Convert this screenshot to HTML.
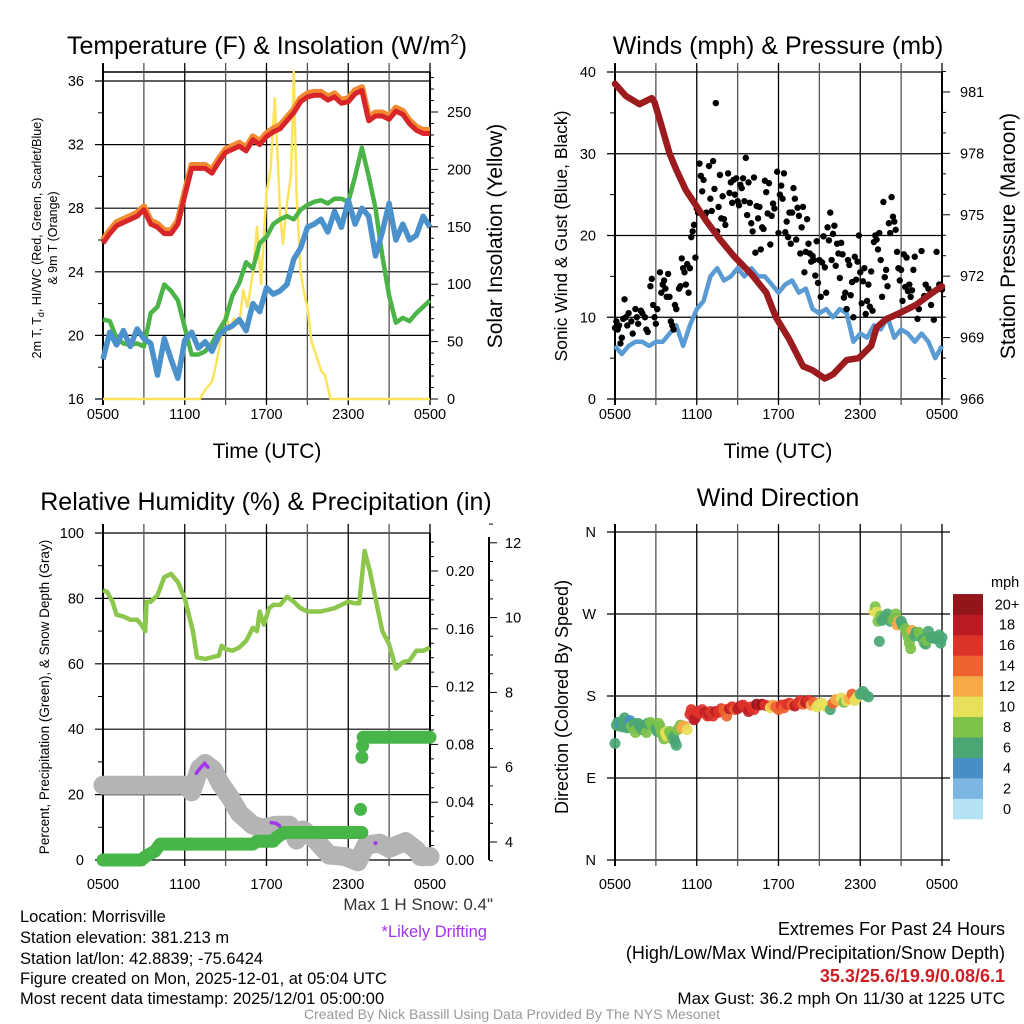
<!DOCTYPE html>
<html><head><meta charset="utf-8"><title>Morrisville Meteogram</title>
<style>
html,body{margin:0;padding:0;background:#fff;}
svg{display:block;font-family:"Liberation Sans",Arial,sans-serif;}
</style></head>
<body>
<svg id="fig" width="1024" height="1024" viewBox="0 0 1024 1024" xmlns="http://www.w3.org/2000/svg">
<rect x="0" y="0" width="1024" height="1024" fill="#fff"/>
<g id="p1"></g>
<g id="p2"></g>
<g id="p3"></g>
<g id="p4"></g>

<text x="267" y="54" font-size="25" text-anchor="middle">Temperature (F) &amp; Insolation (W/m<tspan font-size="15" dy="-10">2</tspan><tspan dy="10">)</tspan></text>
<text x="778" y="54" font-size="25" text-anchor="middle">Winds (mph) &amp; Pressure (mb)</text>
<text x="266" y="510" font-size="25" text-anchor="middle">Relative Humidity (%) &amp; Precipitation (in)</text>
<text x="778" y="506" font-size="25" text-anchor="middle">Wind Direction</text>

<text x="267" y="458" font-size="21" text-anchor="middle">Time (UTC)</text>
<text x="778" y="458" font-size="21" text-anchor="middle">Time (UTC)</text>

<text transform="translate(41,238) rotate(-90)" font-size="12.5" text-anchor="middle">2m T, T<tspan font-size="9" dy="3">d</tspan><tspan dy="-3">, HI/WC (Red, Green, Scarlet/Blue)</tspan></text>
<text transform="translate(57,238) rotate(-90)" font-size="12.5" text-anchor="middle">&amp; 9m T (Orange)</text>
<text transform="translate(502,236) rotate(-90)" font-size="21" text-anchor="middle">Solar Insolation (Yellow)</text>
<text transform="translate(567,236) rotate(-90)" font-size="17.5" text-anchor="middle">Sonic Wind &amp; Gust (Blue, Black)</text>
<text transform="translate(1015,236) rotate(-90)" font-size="21" text-anchor="middle">Station Pressure (Maroon)</text>
<text transform="translate(49,697) rotate(-90)" font-size="13.5" text-anchor="middle">Percent, Precipitation (Green), &amp; Snow Depth (Gray)</text>
<text transform="translate(568,697) rotate(-90)" font-size="18" text-anchor="middle">Direction (Colored By Speed)</text>

<text x="493" y="910" font-size="17" text-anchor="end" fill="#333">Max 1 H Snow: 0.4"</text>
<text x="487" y="937" font-size="16.5" text-anchor="end" fill="#a434ee">*Likely Drifting</text>

<g font-size="16.5">
<text x="20" y="922">Location: Morrisville</text>
<text x="20" y="943">Station elevation: 381.213 m</text>
<text x="20" y="964">Station lat/lon: 42.8839; -75.6424</text>
<text x="20" y="984">Figure created on Mon, 2025-12-01, at 05:04 UTC</text>
<text x="20" y="1004">Most recent data timestamp: 2025/12/01 05:00:00</text>
</g>
<g font-size="18" text-anchor="end">
<text x="1005" y="935">Extremes For Past 24 Hours</text>
<text x="1005" y="959">(High/Low/Max Wind/Precipitation/Snow Depth)</text>
<text x="1005" y="982" fill="#cc2027" font-weight="bold">35.3/25.6/19.9/0.08/6.1</text>
<text x="1005" y="1004" font-size="17">Max Gust: 36.2 mph On 11/30 at 1225 UTC</text>
</g>
<text x="512" y="1019" font-size="14" text-anchor="middle" fill="#999">Created By Nick Bassill Using Data Provided By The NYS Mesonet</text>
</svg>

<script>
// ---------- DATA ----------
const xTickLabels = ["0500","1100","1700","2300","0500"];
const tempTicks = [16,20,24,28,32,36];
const insolTicks = [0,50,100,150,200,250];
const windTicks = [0,10,20,30,40];
const presTicks = [966,969,972,975,978,981];
const rhTicks = [0,20,40,60,80,100];
const precipTicks = ["0.00","0.04","0.08","0.12","0.16","0.20"];
const snowTicks = [4,6,8,10,12];
const dirLabels = ["N","E","S","W","N"];
const cbarLabels = ["0","2","4","6","8","10","12","14","16","18","20+"];
const cbarColors = ["#b4e1f5","#7db7e1","#478dc6","#4aa774","#7cc24a","#e7e05b","#f5a947","#ee6230","#dd3229","#bb1c24","#921519"];

const tHalf = [0,0.5,1,1.5,2,2.5,3,3.5,4,4.5,5,5.5,6,6.5,7,7.5,8,8.5,9,9.5,10,10.5,11,11.5,12,12.5,13,13.5,14,14.5,15,15.5,16,16.5,17,17.5,18,18.5,19,19.5,20,20.5,21,21.5,22,22.5,23,23.5,24];
const tempRed = [25.8,26.4,26.9,27.1,27.3,27.5,27.9,27.0,26.8,26.4,26.4,27.0,28.8,30.5,30.5,30.5,30.2,30.9,31.5,31.7,31.9,31.6,32.3,32.0,32.5,32.8,33.0,33.5,34.0,34.7,35.0,35.1,35.1,34.8,35.0,34.6,34.7,35.2,35.4,33.5,33.8,33.8,33.6,34.1,33.9,33.3,32.9,32.7,32.7];
const tempOrange = [26.0,26.6,27.1,27.3,27.5,27.7,28.1,27.2,27.0,26.6,26.6,27.2,29.0,30.7,30.7,30.7,30.4,31.1,31.7,31.9,32.1,31.8,32.5,32.2,32.7,33.0,33.2,33.7,34.2,34.9,35.2,35.3,35.3,35.0,35.2,34.8,34.9,35.4,35.6,33.7,34.0,34.0,33.8,34.3,34.1,33.5,33.1,32.9,32.9];
const dewGreen = [21.0,20.9,19.8,19.5,19.4,19.5,19.3,21.4,21.8,23.2,22.8,22.2,20.5,18.8,18.8,19.0,19.5,20.3,21.0,22.5,23.3,24.6,24.2,25.8,26.2,27.0,27.3,27.5,27.3,27.9,28.2,28.4,28.5,28.3,28.6,28.6,28.4,30.0,31.8,30.0,28.0,25.0,22.5,20.8,21.1,20.9,21.4,21.8,22.2];
const chillBlue = [18.5,20.2,19.4,20.3,19.3,20.4,19.8,19.5,17.5,19.8,18.5,17.3,19.7,20.2,19.2,19.6,19.0,20.0,20.4,20.6,21.0,20.3,22.0,21.5,23.0,22.6,22.8,23.2,24.8,25.5,26.8,27.0,27.3,26.5,27.8,26.8,28.5,27.0,28.0,27.5,25.0,26.5,28.3,26.0,27.0,26.0,26.3,27.5,26.8];
const solarT = [0,7.1,7.5,8,8.3,8.6,9,9.3,9.6,10,10.3,10.6,11,11.3,11.6,12,12.3,12.6,12.8,13.0,13.2,13.5,13.8,14.0,14.2,14.5,14.8,15.0,15.3,15.6,16.0,16.3,16.7,24];
const solarV = [0,0,8,15,30,50,75,60,70,65,95,80,110,150,100,180,200,262,215,160,135,170,195,285,180,110,90,80,50,40,25,20,0,0];

const windBlue = [6.5,5.5,6.5,7,7,6.5,7,7,8,9,6.5,9,11,12,15,16,14.5,15,16,15,16,15,15,14,13,14,14.5,13,13.5,11,10.5,11,10,11,10.5,7,8,7.5,9,8.5,10,7.5,8.5,8,7,8,7,5,6.5];
const presT = [0,0.8,1.8,2.7,2.9,3.3,4.0,4.5,5.2,6.0,6.7,7.7,8.7,10,11.1,11.8,12.8,13.8,14.5,15.4,16,17,17.9,18.8,19.2,19.9,20.9,22.1,23.3,24];
const presV = [981.4,980.8,980.4,980.7,980.5,979.6,978.0,977.2,976.2,975.4,974.7,973.8,973.0,972.1,971.2,970.0,968.9,967.6,967.4,967.0,967.2,967.9,968.0,968.6,969.5,969.9,970.2,970.6,971.2,971.5];
const gustT = [0,0.1,0.2,0.3,0.4,0.5,0.6,0.7,0.8,0.9,1.0,1.2,1.3,1.5,1.6,1.7,1.9,2.0,2.2,2.3,2.4,2.6,2.7,2.8,2.9,3.0,3.1,3.3,3.4,3.5,3.6,3.7,3.8,3.9,4.0,4.1,4.2,4.3,4.4,4.5,4.7,4.8,4.9,5.0,5.1,5.2,5.3,5.4,5.5,5.6,5.7,5.8,5.9,6.0,6.1,6.2,6.3,6.4,6.5,6.6,6.7,6.9,7.0,7.1,7.2,7.3,7.4,7.5,7.6,7.7,7.8,7.9,8.0,8.1,8.3,8.4,8.5,8.6,8.7,8.8,8.9,9.0,9.1,9.2,9.3,9.4,9.5,9.6,9.7,9.8,9.9,10.0,10.1,10.2,10.3,10.4,10.5,10.6,10.7,10.8,10.9,11.0,11.1,11.2,11.3,11.4,11.5,11.6,11.7,11.9,12.0,12.1,12.2,12.3,12.4,12.5,12.6,12.7,12.8,12.9,13.0,13.1,13.2,13.3,13.4,13.5,13.6,13.7,13.8,13.9,14.0,14.1,14.2,14.3,14.4,14.5,14.6,14.7,14.8,14.9,15.0,15.1,15.2,15.3,15.4,15.5,15.6,15.7,15.8,15.9,16.0,16.1,16.2,16.3,16.4,16.5,16.6,16.7,16.8,16.9,17.0,17.1,17.2,17.3,17.4,17.5,17.6,17.7,17.8,17.9,18.0,18.1,18.2,18.3,18.4,18.5,18.6,18.7,18.8,18.9,19.0,19.1,19.2,19.3,19.4,19.5,19.6,19.7,19.8,19.9,20.0,20.1,20.2,20.3,20.4,20.5,20.6,20.7,20.8,20.9,21.0,21.1,21.2,21.3,21.4,21.5,21.6,21.7,21.8,21.9,22.0,22.2,22.3,22.5,22.7,22.8,23.0,23.2,23.4,23.6,23.8,24.0];
const gustV = [8.7,9.5,8.5,9.0,6.8,7.5,9.8,12.2,10.0,9.0,10.5,9.5,8.0,11.0,10.0,9.2,10.8,10.5,10.0,8.5,8.2,13.8,14.7,11.5,10.0,9.2,11.0,15.5,13.0,14.0,14.5,13.5,12.5,15.3,12.5,9.5,9.0,8.5,11.5,11.0,13.5,13.8,17.2,16.0,15.5,14.0,16.5,13.0,16.0,19.8,20.5,21.3,17.3,23.3,22.8,28.8,27.3,25.4,26.8,22.5,22.8,28.5,24.5,23.0,29.1,25.7,36.2,20.5,23.5,27.4,22.1,24.8,22.0,21.3,27.6,25.2,26.5,24.0,26.8,25.0,27.0,24.2,23.7,26.2,25.8,27.0,24.2,29.5,22.5,26.5,24.0,21.5,20.5,27.1,17.9,23.6,22.1,23.5,18.3,21.0,20.8,26.7,25.3,22.7,26.4,18.9,22.4,23.9,23.3,27.8,20.3,25.0,26.1,24.5,27.6,20.4,21.7,19.8,22.8,19.0,22.8,25.8,24.5,19.5,23.4,22.4,17.8,21.0,23.5,15.5,18.0,22.0,19.0,17.8,16.8,17.5,17.0,15.1,19.3,14.2,17.0,12.5,16.7,19.9,16.1,13.0,21.0,19.4,22.8,17.0,20.2,21.2,16.3,19.0,17.8,14.8,19.1,17.7,12.4,13.0,11.0,17.0,16.4,12.7,14.3,10.0,17.4,14.6,16.8,20.0,15.5,11.7,14.4,16.0,10.4,12.0,14.0,11.3,15.6,10.8,19.2,20.0,19.5,18.3,20.3,17.0,12.5,24.1,14.9,15.8,13.8,21.5,20.3,24.7,22.3,21.7,20.7,18.0,16.0,14.5,15.8,12.0,17.7,13.7,17.3,13.2,14.0,12.5,13.3,15.8,17.4,9.8,11.0,18.1,12.6,14.0,13.5,11.5,9.7,18.0,14.0,13.4];

const rhT = [0,0.3,0.7,1,1.5,2,2.5,2.8,3.1,3.2,3.5,4,4.5,5,5.5,6,6.3,6.6,6.9,7.5,8,8.5,8.7,9,9.5,10,10.5,11,11.3,11.5,11.8,12.2,12.5,13,13.5,14,14.5,15,16,17,17.5,18,18.5,18.8,19.2,19.6,20,20.5,21,21.5,22,22.5,23,23.5,24];
const rhV = [82.5,82,79,75,74.5,73.5,73.5,72,70,79,79,81,86.5,87.5,85,80,75,70,62,61.5,62,62.5,65.5,64.5,64,65,67,71,70,76,72,77,78,78,80.5,79,77,76,76,77,78,79,78.5,78.5,94.5,88,80,70,66,58.5,60.5,61,64,64,65];
const precipT = [0,2.8,3.2,3.8,4.2,11.0,11.3,12.5,12.8,13.3,19.0];
const precipV = [0,0,0.003,0.006,0.011,0.011,0.013,0.013,0.016,0.019,0.019];
const precipJumpT = [18.9,19.0,19.05];
const precipJumpV = [0.035,0.071,0.079];
const precipLateT = [19.1,24];
const precipLateV = [0.085,0.085];
const snowT = [0,6.1,6.5,7.1,7.5,8.1,8.6,9.3,10,11,11.7,12.7,13.7,14.2,14.7,15.6,16.6,17.8,18.7,19.3,20.3,21,22.2,23,23.3,24];
const snowV = [5.52,5.52,5.34,5.97,6.10,5.93,5.57,5.21,4.77,4.45,4.37,4.45,4.45,4.05,4.32,4.05,3.65,3.61,3.47,3.92,3.97,3.83,4.01,3.79,3.61,3.61];
const driftT1 = [6.85,7.2,7.46,7.7];
const driftV1 = [5.84,6.0,6.1,6.0];
const driftT2 = [12.35,12.7,12.96];
const driftV2 = [4.52,4.5,4.43];
const driftDotT = [20.0];
const driftDotV = [3.97];

const dirT = [0.0,0.1,0.2,0.3,0.4,0.5,0.6,0.7,0.8,0.9,1.0,1.1,1.2,1.4,1.5,1.6,1.7,1.8,2.0,2.2,2.3,2.4,2.6,2.8,3.0,3.1,3.2,3.3,3.4,3.5,3.6,3.7,3.8,4.0,4.1,4.2,4.3,4.4,4.5,4.6,4.7,4.8,4.9,5.0,5.1,5.3,5.5,5.6,5.7,5.8,5.9,6.0,6.2,6.4,6.6,6.8,6.9,7.0,7.2,7.4,7.6,7.8,8.0,8.2,8.4,8.6,8.8,9.0,9.2,9.4,9.6,9.8,10.0,10.2,10.4,10.6,10.8,11.0,11.2,11.4,11.6,11.8,12.0,12.2,12.4,12.6,12.8,13.0,13.2,13.4,13.6,13.8,14.0,14.2,14.4,14.6,14.8,15.0,15.2,15.4,15.6,15.8,16.0,16.2,16.4,16.6,16.8,17.0,17.2,17.4,17.6,17.8,18.0,18.2,18.4,18.6,19.0,19.1,19.2,19.3,19.4,19.5,19.6,19.8,20.0,20.2,20.4,20.6,20.7,20.8,21.0,21.1,21.3,21.4,21.5,21.6,21.7,21.8,22.0,22.1,22.3,22.5,22.6,22.7,22.8,22.9,23.0,23.2,23.4,23.5,23.7,23.8,23.9,24.0];
const dirV = [128,148,151,147,150,152,146,156,151,145,150,153,147,150,140,144,150,147,143,148,140,150,151,147,145,141,150,147,141,137,133,140,136,141,138,133,135,130,126,143,145,148,145,147,147,143,160,165,161,154,156,163,161,165,162,158,160,163,158,163,162,166,165,158,166,168,165,166,169,170,167,163,168,165,171,170,171,170,169,167,170,168,165,170,167,171,172,170,169,172,175,171,173,175,170,173,168,171,172,169,168,165,172,176,175,178,173,175,177,182,175,179,182,185,181,179,273,278,272,262,240,268,263,267,270,262,264,270,258,262,262,258,254,250,245,238,232,252,246,250,250,245,242,238,237,241,251,244,245,243,243,247,238,244];
const dirSpd = [6,6,6,6,4,6,6,6,6,6,6,4,7,6,8,8,6,6,6,6,7,6,7,7,6,6,8,8,8,8,8,9,10,7,8,8,6,6,6,7,8,8,11,12,12,10,15,15,16,17,17,16,15,16,18,16,18,16,16,17,15,16,14,14,17,16,14,18,17,16,16,18,16,15,19,18,20,16,15,10,12,14,14,16,14,16,15,14,17,16,15,14,17,15,12,14,10,10,9,10,10,6,13,11,12,10,8,10,12,14,10,10,6,6,6,6,10,8,10,8,6,8,6,6,6,6,8,8,12,12,6,6,8,8,8,8,8,12,6,6,8,8,6,8,6,8,6,6,6,6,6,6,6,6];

// ---------- SCALES ----------
const X0L = 103, X0R = 615, PXH = 13.625;
const xs1 = t => X0L + t * PXH;
const xs2 = t => X0R + t * PXH;
const yT = v => 399 - (v - 16) * 15.9;
const yI = v => 399 - v * 1.148;
const yW = v => 399 - v * 8.175;
const yP = v => 399 - (v - 966) * 20.47;
const yR = v => 860 - v * 3.27;
const yPr = v => 860 - v * 1445;
const yS = v => 842 - (v - 4) * 37.4;
const yD = d => 860 - d * 0.9111;

const NS = "http://www.w3.org/2000/svg";
function mk(parent, tag, attrs) {
  const el = document.createElementNS(NS, tag);
  for (const k in attrs) el.setAttribute(k, attrs[k]);
  parent.appendChild(el);
  return el;
}
function pts(ts, vs, fx, fy) {
  return ts.map((t, i) => fx(t).toFixed(1) + "," + fy(vs[i]).toFixed(1)).join(" ");
}

function vGrid(g, fx, y1, y2, nameBase) {
  for (let h = 0; h <= 24; h += 3) {
    const l = mk(g, "line", {x1: fx(h), x2: fx(h), y1: y1, y2: y2, stroke: (h % 6 === 0) ? "#000" : "#555", "stroke-width": (h === 0) ? 2 : 1.3});
    
    
  }
}
function xLabels(g, fx, y) {
  xTickLabels.forEach((s, i) => {
    const tx = mk(g, "text", {x: fx(i * 6), y: y, "font-size": 14.5, "text-anchor": "middle"});
    tx.textContent = s;
    
    
  });
}

// ================= PANEL 1 =================
(function () {
  const g = document.getElementById("p1");
  tempTicks.forEach(v => {
    const l = mk(g, "line", {x1: 95, x2: 430, y1: yT(v), y2: yT(v), stroke: "#000", "stroke-width": 1.2});
    
    
    const tx = mk(g, "text", {x: 84, y: yT(v) + 5, "font-size": 14.5, "text-anchor": "end"});
    tx.textContent = v;
    
    
  });
  for (let v = 18; v <= 36; v += 4) {
    const l = mk(g, "line", {x1: 98, x2: 103, y1: yT(v), y2: yT(v), stroke: "#000", "stroke-width": 1});
    
    
  }
  const top = mk(g, "line", {x1: 103, x2: 430, y1: 72, y2: 72, stroke: "#000", "stroke-width": 1.5});
  
  
  vGrid(g, xs1, 63, 405, 'temperature');
  const ra = mk(g, "line", {x1: 430, x2: 430, y1: 72, y2: 399, stroke: "#000", "stroke-width": 2});
  
  
  for (let v = 0; v <= 280; v += 10) {
    const major = v % 50 === 0;
    const l = mk(g, "line", {x1: 430, x2: major ? 438 : 434, y1: yI(v), y2: yI(v), stroke: "#000", "stroke-width": 1});
    
    
  }
  insolTicks.forEach(v => {
    const tx = mk(g, "text", {x: 447, y: yI(v) + 5, "font-size": 14.5});
    tx.textContent = v;
    
    
  });
  xLabels(g, xs1, 419);

  const sol = mk(g, "polyline", {points: pts(solarT, solarV, xs1, yI), fill: "none", stroke: "#fce35c", "stroke-width": 2.5, "stroke-linejoin": "round"});
  
  
  const dew = mk(g, "polyline", {points: pts(tHalf, dewGreen, xs1, yT), fill: "none", stroke: "#4bb447", "stroke-width": 4.5, "stroke-linejoin": "round"});
  
  
  const chill = mk(g, "polyline", {points: pts(tHalf, chillBlue, xs1, yT), fill: "none", stroke: "#4b91cb", "stroke-width": 5.5, "stroke-linejoin": "round"});
  
  
  const or = mk(g, "polyline", {points: pts(tHalf, tempOrange, xs1, yT), fill: "none", stroke: "#f28a32", "stroke-width": 6.5, "stroke-linejoin": "round"});
  
  
  const red = mk(g, "polyline", {points: pts(tHalf, tempRed, xs1, yT), fill: "none", stroke: "#d7252a", "stroke-width": 5, "stroke-linejoin": "round"});
  
  
})();

// ================= PANEL 2 =================
(function () {
  const g = document.getElementById("p2");
  windTicks.forEach(v => {
    const l = mk(g, "line", {x1: 607, x2: 942, y1: yW(v), y2: yW(v), stroke: "#000", "stroke-width": 1.2});
    
    
    const tx = mk(g, "text", {x: 596, y: yW(v) + 5, "font-size": 14.5, "text-anchor": "end"});
    tx.textContent = v;
    
    
  });
  for (let v = 5; v <= 35; v += 10) {
    const l = mk(g, "line", {x1: 610, x2: 615, y1: yW(v), y2: yW(v), stroke: "#000", "stroke-width": 1});
    
    
  }
  vGrid(g, xs2, 63, 405, 'winds');
  const ra = mk(g, "line", {x1: 942, x2: 942, y1: 72, y2: 399, stroke: "#000", "stroke-width": 2});
  
  
  for (let v = 966; v <= 982; v += 1) {
    const major = (v - 966) % 3 === 0;
    const l = mk(g, "line", {x1: 942, x2: major ? 950 : 946, y1: yP(v), y2: yP(v), stroke: "#000", "stroke-width": 1});
    
    
  }
  presTicks.forEach(v => {
    const tx = mk(g, "text", {x: 960, y: yP(v) + 5, "font-size": 14.5});
    tx.textContent = v;
    
    
  });
  xLabels(g, xs2, 419);

  const wl = mk(g, "polyline", {points: pts(tHalf, windBlue, xs2, yW), fill: "none", stroke: "#5a9bd3", "stroke-width": 4.5, "stroke-linejoin": "round"});
  
  
  gustT.forEach((t, i) => {
    const c = mk(g, "circle", {cx: xs2(t), cy: yW(gustV[i]), r: 3.2, fill: "#000"});
    
    
  });
  const pl = mk(g, "polyline", {points: pts(presT, presV, xs2, yP), fill: "none", stroke: "#9b1b1e", "stroke-width": 6.5, "stroke-linejoin": "round", "stroke-linecap": "round"});
  
  
})();

// ================= PANEL 3 =================
(function () {
  const g = document.getElementById("p3");
  rhTicks.forEach(v => {
    const l = mk(g, "line", {x1: 95, x2: 430, y1: yR(v), y2: yR(v), stroke: "#000", "stroke-width": 1.2});
    
    
    const tx = mk(g, "text", {x: 84, y: yR(v) + 5, "font-size": 14.5, "text-anchor": "end"});
    tx.textContent = v;
    
    
  });
  for (let v = 10; v <= 90; v += 20) {
    const l = mk(g, "line", {x1: 98, x2: 103, y1: yR(v), y2: yR(v), stroke: "#000", "stroke-width": 1});
    
    
  }
  vGrid(g, xs1, 524, 866, 'humidity');
  const ra = mk(g, "line", {x1: 430, x2: 430, y1: 533, y2: 860, stroke: "#000", "stroke-width": 2});
  
  
  for (let k = 0; k <= 22; k++) {
    const v = k * 0.01;
    const major = k % 4 === 0;
    const l = mk(g, "line", {x1: 430, x2: major ? 438 : 434, y1: yPr(v), y2: yPr(v), stroke: "#000", "stroke-width": 1});
    
    
  }
  precipTicks.forEach(s => {
    const tx = mk(g, "text", {x: 446, y: yPr(parseFloat(s)) + 5, "font-size": 14.5});
    tx.textContent = s;
    
    
  });
  const sa = mk(g, "line", {x1: 489, x2: 489, y1: 537, y2: 860, stroke: "#000", "stroke-width": 2});
  
  
  for (let v = 3.5; v <= 12.5; v += 0.5) {
    const major = Math.abs(v % 2) < 0.01;
    const l = mk(g, "line", {x1: 489, x2: major ? 497 : 493, y1: yS(v), y2: yS(v), stroke: "#000", "stroke-width": 1});
    
    
  }
  snowTicks.forEach(v => {
    const tx = mk(g, "text", {x: 505, y: yS(v) + 5, "font-size": 14.5});
    tx.textContent = v;
    
    
  });
  xLabels(g, xs1, 889);

  const rh = mk(g, "polyline", {points: pts(rhT, rhV, xs1, yR), fill: "none", stroke: "#8dc64d", "stroke-width": 4.5, "stroke-linejoin": "round"});
  
  
  const sn = mk(g, "polyline", {points: pts(snowT, snowV, xs1, yS), fill: "none", stroke: "#b4b4b4", "stroke-width": 19, "stroke-linejoin": "round", "stroke-linecap": "round"});
  
  
  const pr = mk(g, "polyline", {points: pts(precipT, precipV, xs1, yPr), fill: "none", stroke: "#48b548", "stroke-width": 13, "stroke-linejoin": "round", "stroke-linecap": "round"});
  
  
  precipJumpT.forEach((t, i) => {
    const c = mk(g, "circle", {cx: xs1(t), cy: yPr(precipJumpV[i]), r: 6.5, fill: "#48b548"});
    
    
  });
  const pr2 = mk(g, "polyline", {points: pts(precipLateT, precipLateV, xs1, yPr), fill: "none", stroke: "#48b548", "stroke-width": 13, "stroke-linecap": "round"});
  
  
  const d1 = mk(g, "polyline", {points: pts(driftT1, driftV1, xs1, yS), fill: "none", stroke: "#a434ee", "stroke-width": 3.5, "stroke-linecap": "round"});
  
  
  const d2 = mk(g, "polyline", {points: pts(driftT2, driftV2, xs1, yS), fill: "none", stroke: "#a434ee", "stroke-width": 3.5, "stroke-linecap": "round"});
  
  
  driftDotT.forEach((t, i) => {
    const c = mk(g, "circle", {cx: xs1(t), cy: yS(driftDotV[i]), r: 2, fill: "#a434ee"});
    
    
  });
})();

// ================= PANEL 4 =================
(function () {
  const g = document.getElementById("p4");
  dirLabels.forEach((s, i) => {
    const y = yD(i * 90);
    const l = mk(g, "line", {x1: 607, x2: 950, y1: y, y2: y, stroke: "#000", "stroke-width": 1.2});
    
    
    const tx = mk(g, "text", {x: 596, y: y + 5, "font-size": 14.5, "text-anchor": "end"});
    tx.textContent = s;
    
    
  });
  vGrid(g, xs2, 524, 866, 'direction');
  xLabels(g, xs2, 889);

  dirT.forEach((t, i) => {
    const idx = Math.min(10, Math.round(dirSpd[i] / 2));
    const c = mk(g, "circle", {cx: xs2(t), cy: yD(dirV[i]), r: 5.5, fill: cbarColors[idx], "fill-opacity": 0.92});
    
    
  });

  const unit = mk(g, "text", {x: 991, y: 587, "font-size": 14.5});
  unit.textContent = "mph";
  
  
  const bh = 20.45;
  cbarColors.forEach((c, i) => {
    const y = 819 - (i + 1) * bh;
    const r = mk(g, "rect", {x: 953, y: y, width: 30, height: bh + 0.3, fill: c});
    
    
    const tx = mk(g, "text", {x: 1007, y: y + bh / 2 + 5, "font-size": 14.5, "text-anchor": "middle"});
    tx.textContent = cbarLabels[i];
    
    
  });
})();
</script>
</body></html>
